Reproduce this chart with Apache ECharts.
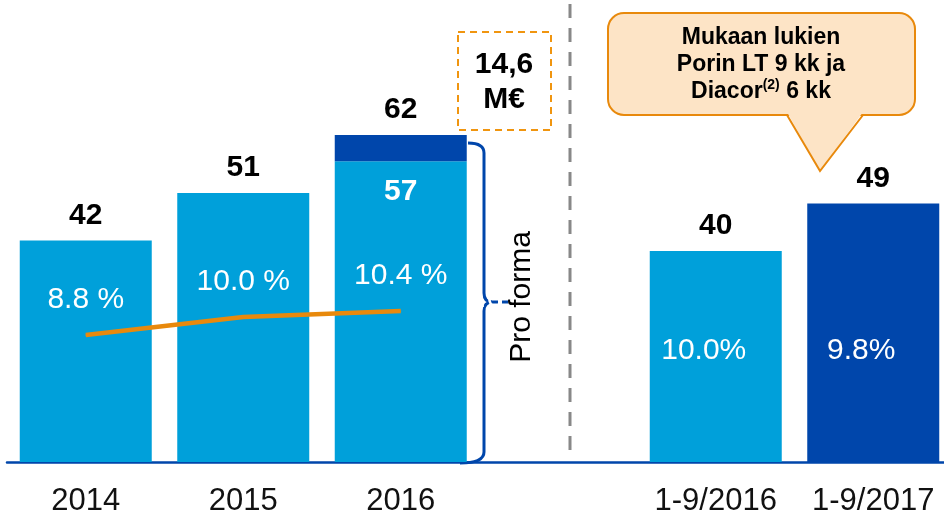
<!DOCTYPE html>
<html>
<head>
<meta charset="utf-8">
<script src="https://cdn.jsdelivr.net/npm/echarts@6/dist/echarts.min.js"></script>
<style>
    html, body { margin: 0; padding: 0; background: #fff; }
    #chart { width: 944px; height: 516px; }
</style>
</head>
<body>
<div id="chart"></div>
<script>
const categories = ['2014', '2015', '2016', '', '1-9/2016', '1-9/2017']
const sales = [42, 51, 57, null, 40, 49]
const proFormaTotal = [null, null, 62, null, null, null]
const ebitdaMargin = [8.8, 10.0, 10.4, null, null, null]
const periodMargin = [null, null, null, null, 10.0, 9.8]

const lightBlue = '#00A0DA'
const darkBlue = '#0046AB'
const orange = '#E8890C'
const font = '"Liberation Sans", Arial, sans-serif'

const chart = echarts.init(document.getElementById('chart'))

const valueLabel = {
    show: true,
    position: 'top',
    distance: 10,
    color: '#000',
    fontSize: 30,
    fontWeight: 'bold',
    fontFamily: font,
}

chart.setOption({
    animation: false,
    grid: { left: 7, right: -8, top: 40, bottom: 54, outerBoundsMode: 'none', containLabel: false },
    xAxis: {
        type: 'category',
        data: categories,
        axisLine: { lineStyle: { color: darkBlue, width: 2.5 } },
        axisTick: { show: false },
        axisLabel: { interval: 0, color: '#111', fontSize: 31, fontFamily: font, margin: 24 },
    },
    yAxis: [
        { type: 'value', min: 0, max: 80, show: false },
        { type: 'value', min: 0.33, max: 28.46, show: false },
    ],
    series: [
        {
            type: 'bar',
            stack: 'sales',
            barWidth: 132,
            barGap: '-100%',
            data: sales.map((v, i) => {
                if (v == null) return null
                const item = { value: v, itemStyle: { color: i === 5 ? darkBlue : lightBlue } }
                if (proFormaTotal[i] != null) {
                    item.label = { position: 'insideTop', distance: 15, color: '#fff' }
                }
                return item
            }),
            label: valueLabel,
        },
        {
            // pro forma part on top of 2016
            type: 'bar',
            stack: 'sales',
            barWidth: 132,
            barGap: '-100%',
            itemStyle: { color: darkBlue },
            data: proFormaTotal.map((v, i) => (v == null ? null : v - sales[i])),
            label: {
                ...valueLabel,
                formatter: p => proFormaTotal[p.dataIndex],
            },
        },
        {
            // margin labels inside the period bars
            type: 'bar',
            barWidth: 132,
            barGap: '-100%',
            silent: true,
            itemStyle: { color: 'rgba(0,0,0,0)' },
            data: periodMargin.map((v, i) => (v == null ? null : sales[i])),
            label: {
                show: true,
                position: 'insideBottom',
                distance: 96,
                offset: [-12, 0],
                color: '#fff',
                fontSize: 30,
                fontFamily: font,
                formatter: p => periodMargin[p.dataIndex].toFixed(1) + '%',
            },
        },
        {
            type: 'line',
            yAxisIndex: 1,
            data: ebitdaMargin,
            symbol: 'circle',
            symbolSize: 1,
            itemStyle: { color: orange },
            lineStyle: { color: orange, width: 4.5 },
            z: 5,
            label: {
                show: true,
                position: 'top',
                distance: 20,
                color: '#fff',
                fontSize: 30,
                fontFamily: font,
                formatter: p => p.value.toFixed(1) + ' %',
            },
        },
    ],
    graphic: [
        // hidden remnant label under the brace
        {
            type: 'text', left: 445, top: 284, z: 1,
            style: { text: '10.0 %', fill: '#fff', font: '30px ' + font },
        },
        // divider
        {
            type: 'line', z: 2,
            shape: { x1: 570, y1: 4, x2: 570, y2: 460 },
            style: { stroke: '#888', lineWidth: 3, lineDash: [14, 10] },
        },
        // pro forma brace
        {
            type: 'group', z: 3,
            children: [
                { type: 'bezierCurve', shape: { x1: 468, y1: 143, x2: 484, y2: 153, cpx1: 484, cpy1: 143 }, style: { stroke: darkBlue, lineWidth: 3, fill: null } },
                { type: 'line', shape: { x1: 484, y1: 153, x2: 484, y2: 293 }, style: { stroke: darkBlue, lineWidth: 3 } },
                { type: 'bezierCurve', shape: { x1: 484, y1: 293, x2: 492, y2: 302, cpx1: 484, cpy1: 302 }, style: { stroke: darkBlue, lineWidth: 3, fill: null } },
                { type: 'bezierCurve', shape: { x1: 492, y1: 302, x2: 484, y2: 311, cpx1: 484, cpy1: 302 }, style: { stroke: darkBlue, lineWidth: 3, fill: null } },
                { type: 'line', shape: { x1: 484, y1: 311, x2: 484, y2: 452 }, style: { stroke: darkBlue, lineWidth: 3 } },
                { type: 'bezierCurve', shape: { x1: 484, y1: 452, x2: 460, y2: 463, cpx1: 484, cpy1: 463 }, style: { stroke: darkBlue, lineWidth: 3, fill: null } },
                { type: 'line', shape: { x1: 492, y1: 302, x2: 512, y2: 302 }, style: { stroke: darkBlue, lineWidth: 3, lineDash: [6, 4] } },
            ],
        },
        {
            type: 'text', z: 4,
            x: 522, y: 297, rotation: Math.PI / 2,
            style: { text: 'Pro forma', fill: '#000', font: '30px ' + font, align: 'center', verticalAlign: 'middle' },
        },
        // acquisitions box
        {
            type: 'rect', z: 2,
            shape: { x: 458, y: 32, width: 93, height: 98 },
            style: { fill: '#fff', stroke: '#F0950F', lineWidth: 2, lineDash: [7, 5] },
        },
        {
            type: 'text', z: 3,
            x: 504, y: 82,
            style: { text: '14,6\nM€', fill: '#000', font: 'bold 30px ' + font, lineHeight: 35, align: 'center', verticalAlign: 'middle' },
        },
        // callout
        {
            type: 'rect', z: 2,
            shape: { x: 608, y: 13, width: 307, height: 102, r: 16 },
            style: { fill: '#FDE4C6', stroke: orange, lineWidth: 2 },
        },
        {
            type: 'polygon', z: 3,
            shape: { points: [[787, 112], [863, 112], [820, 171]] },
            style: { fill: '#FDE4C6' },
        },
        {
            type: 'polyline', z: 3,
            shape: { points: [[787, 115], [820, 171], [863, 115]] },
            style: { stroke: orange, lineWidth: 2, fill: null },
        },
        {
            type: 'text', z: 4,
            x: 761, y: 65,
            style: {
                text: 'Mukaan lukien\nPorin LT 9 kk ja\nDiacor{sup|(2)} 6 kk',
                fill: '#000', font: 'bold 23px ' + font, lineHeight: 27,
                align: 'center', verticalAlign: 'middle',
                rich: {
                    sup: { fontSize: 14, fontWeight: 'bold', fontFamily: font, verticalAlign: 'top', lineHeight: 27, padding: [0, 0, 10, 0] },
                },
            },
        },
    ],
})
</script>
</body>
</html>
